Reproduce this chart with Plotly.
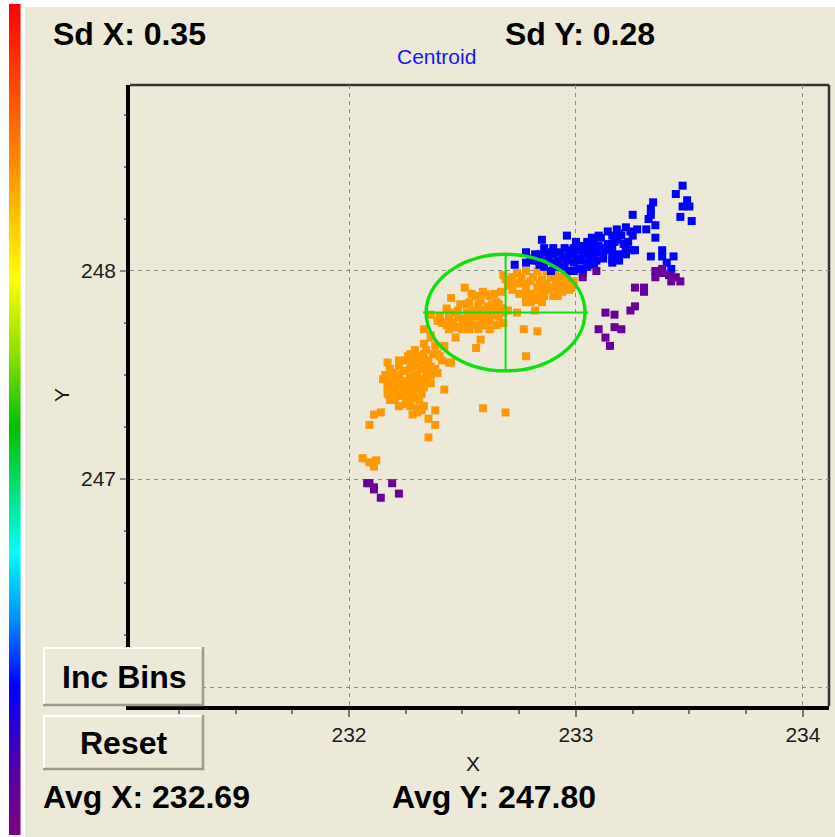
import numpy as np
import plotly.graph_objects as go

W, H = 835, 837
BG = "#ECE9D8"

# ---- summary statistics shown on the chart ----
SD_X, SD_Y = 0.35, 0.28
AVG_X, AVG_Y = 232.69, 247.80

# ---- tick settings ----
X_TICK0 = 232
Y_TICKVALS = [246, 247, 248]
Y_TICKTEXT = ["", "247", "248"]   # the 246 label sits hidden behind the button

# ---- data: orange cluster ----
orange_x = [
    232.68, 232.74, 232.78, 232.83, 232.87, 232.91, 232.96, 232.99, 232.98, 232.94,
    232.90, 232.86, 232.82, 232.78, 232.82, 232.78, 232.74, 232.69, 232.75, 232.87,
    232.93, 232.83, 232.90, 232.96, 232.80, 232.86, 232.85, 232.92, 232.80, 232.88,
    232.95, 232.70,
    232.72, 232.76, 232.81, 232.89, 232.94, 232.71, 232.77, 232.84, 232.91, 232.98,
    232.72, 232.78, 232.85, 232.93, 232.97, 232.78, 232.83, 232.92, 232.80, 232.85,
    232.51, 232.59, 232.67, 232.56, 232.62, 232.53, 232.49, 232.65, 232.67, 232.61,
    232.55, 232.46, 232.40, 232.39, 232.44, 232.50, 232.56, 232.63, 232.68, 232.47,
    232.53, 232.59, 232.65, 232.43, 232.74, 232.45, 232.58, 232.52, 232.60, 232.43,
    232.36, 232.50, 232.56, 232.62, 232.66,
    232.52, 232.57, 232.63, 232.48, 232.58, 232.64, 232.70, 232.44, 232.48, 232.53,
    232.59, 232.66, 232.41, 232.46, 232.53, 232.60, 232.68, 232.44, 232.50, 232.57,
    232.62, 232.54, 232.60, 232.64,
    232.77, 232.83, 232.47, 232.58, 232.56, 232.78, 232.45, 232.42, 232.59, 232.69,
    232.36, 232.38, 232.34, 232.40, 232.44, 232.30, 232.26, 232.17, 232.22, 232.30,
    232.36, 232.39, 232.17, 232.21, 232.27, 232.33, 232.20, 232.25, 232.31, 232.36,
    232.18, 232.22, 232.28, 232.25, 232.30, 232.32, 232.28, 232.24, 232.21, 232.34,
    232.32, 232.28, 232.24, 232.28, 232.19, 232.31, 232.23, 232.26, 232.34, 232.29,
    232.33, 232.37, 232.42, 232.15, 232.17, 232.27, 232.22, 232.33, 232.36,
    232.27, 232.33, 232.39, 232.25, 232.35, 232.41, 232.18, 232.27, 232.32, 232.38,
    232.16, 232.22, 232.30, 232.36, 232.19, 232.25, 232.30, 232.34, 232.17, 232.22,
    232.28, 232.33, 232.20, 232.29, 232.32, 232.20, 232.25, 232.31, 232.22, 232.27,
    232.33, 232.30,
    232.38, 232.35, 232.38, 232.35, 232.14, 232.11, 232.09,
    232.06, 232.09, 232.12, 232.11,
]
orange_y = [
    247.98, 247.99, 248.00, 248.00, 248.00, 247.99, 247.98, 247.95, 247.92, 247.90,
    247.88, 247.88, 247.86, 247.85, 247.81, 247.92, 247.94, 247.96, 247.89, 247.94,
    247.94, 247.92, 247.92, 247.93, 247.89, 247.90, 247.96, 247.97, 247.95, 247.91,
    247.95, 247.93,
    247.97, 247.97, 247.97, 247.97, 247.97, 247.94, 247.94, 247.94, 247.94, 247.94,
    247.91, 247.91, 247.91, 247.91, 247.91, 247.88, 247.88, 247.88, 247.85, 247.85,
    247.92, 247.90, 247.90, 247.88, 247.88, 247.85, 247.84, 247.85, 247.82, 247.83,
    247.81, 247.80, 247.78, 247.76, 247.76, 247.77, 247.78, 247.79, 247.80, 247.73,
    247.72, 247.74, 247.74, 247.74, 247.80, 247.87, 247.86, 247.80, 247.80, 247.82,
    247.79, 247.75, 247.74, 247.76, 247.84,
    247.84, 247.84, 247.84, 247.81, 247.81, 247.81, 247.81, 247.78, 247.78, 247.78,
    247.78, 247.78, 247.75, 247.75, 247.75, 247.75, 247.75, 247.72, 247.72, 247.72,
    247.72, 247.89, 247.89, 247.89,
    247.72, 247.71, 247.68, 247.67, 247.63, 247.59, 247.56, 247.43, 247.34, 247.32,
    247.69, 247.64, 247.62, 247.59, 247.56, 247.59, 247.59, 247.56, 247.54, 247.54,
    247.54, 247.51, 247.46, 247.49, 247.49, 247.48, 247.43, 247.44, 247.44, 247.46,
    247.38, 247.40, 247.39, 247.36, 247.34, 247.33, 247.31, 247.41, 247.46, 247.51,
    247.57, 247.56, 247.52, 247.47, 247.51, 247.58, 247.46, 247.42, 247.55, 247.62,
    247.65, 247.60, 247.64, 247.48, 247.41, 247.37, 247.57, 247.72, 247.68,
    247.60, 247.60, 247.60, 247.57, 247.57, 247.57, 247.53, 247.53, 247.53, 247.53,
    247.50, 247.50, 247.50, 247.50, 247.47, 247.47, 247.47, 247.47, 247.44, 247.44,
    247.44, 247.44, 247.41, 247.41, 247.41, 247.38, 247.38, 247.38, 247.35, 247.35,
    247.35, 247.32,
    247.33, 247.29, 247.26, 247.20, 247.32, 247.31, 247.26,
    247.10, 247.08, 247.09, 247.06,
]

# ---- data: blue cluster ----
blue_x = [
    233.47, 233.44, 233.49, 233.47, 233.50, 233.46, 233.51, 233.34, 233.33, 233.33,
    233.32, 233.35, 233.31, 233.35, 233.25, 233.22, 233.25, 233.19, 233.14, 233.18,
    233.21, 233.26, 233.22, 233.16, 233.16, 232.96, 232.85, 233.07, 233.05, 233.02,
    233.00, 233.38, 233.33, 233.38, 233.43, 233.40, 233.42, 232.86, 232.78, 232.81,
    232.78, 232.84, 232.90, 232.94, 232.99, 233.05, 233.09, 233.12, 233.05, 233.01,
    233.03, 233.08, 232.93, 232.89, 232.97, 232.73, 233.02, 233.08, 233.18, 233.25,
    233.22, 233.16, 233.12, 233.06, 232.99, 232.91, 232.84, 232.80, 232.87, 232.93,
    232.99, 233.05, 233.11, 233.16, 233.03, 232.99, 233.00, 232.95, 233.10, 233.13,
    233.03, 232.92, 232.88, 233.06, 232.97, 233.14, 233.20, 233.24, 232.82,
    232.86, 232.95, 233.05, 232.83, 232.87, 232.96, 233.02, 233.09, 233.19, 232.84,
    232.90, 232.97, 233.08, 233.19, 232.90, 232.95, 233.04, 233.13, 233.22, 233.00,
    233.08, 233.17, 233.23, 233.10, 233.16, 233.18, 233.27,
]
blue_y = [
    248.41, 248.37, 248.34, 248.31, 248.31, 248.26, 248.24, 248.33, 248.30, 248.27,
    248.25, 248.22, 248.20, 248.16, 248.27, 248.21, 248.17, 248.18, 248.19, 248.16,
    248.13, 248.10, 248.09, 248.08, 248.04, 248.17, 248.15, 248.16, 248.13, 248.12,
    248.10, 248.10, 248.07, 248.07, 248.07, 248.04, 248.01, 248.11, 248.09, 248.05,
    248.04, 248.03, 248.04, 248.06, 248.08, 248.08, 248.09, 248.06, 248.04, 248.01,
    247.99, 248.03, 248.02, 248.00, 248.00, 248.03, 248.10, 248.12, 248.15, 248.10,
    248.08, 248.05, 248.08, 248.05, 248.04, 248.02, 248.04, 248.06, 248.09, 248.09,
    248.11, 248.14, 248.16, 248.11, 248.01, 248.00, 248.06, 248.07, 248.12, 248.10,
    248.08, 248.05, 248.06, 248.10, 248.10, 248.13, 248.17, 248.19, 248.08,
    248.02, 248.02, 248.02, 248.05, 248.05, 248.05, 248.05, 248.05, 248.05, 248.08,
    248.08, 248.08, 248.08, 248.08, 248.11, 248.11, 248.11, 248.11, 248.11, 248.14,
    248.14, 248.14, 248.14, 248.17, 248.17, 248.20, 248.20,
]

# ---- data: purple points ----
purple_x = [
    233.09, 233.03, 233.35, 233.38, 233.41, 233.44, 233.35, 233.42, 233.46, 233.38,
    233.26, 233.30, 233.30, 233.26, 233.24, 233.13, 233.17, 233.10, 233.17, 233.20,
    233.13, 233.15,
    232.08, 232.11, 232.14, 232.19, 232.22, 232.11, 232.09,
]
purple_y = [
    248.00, 247.97, 248.00, 247.99, 247.98, 247.97, 247.97, 247.95, 247.95, 248.01,
    247.92, 247.92, 247.90, 247.83, 247.81, 247.80, 247.79, 247.72, 247.73, 247.72,
    247.68, 247.64,
    246.98, 246.96, 246.91, 246.98, 246.93, 246.95, 246.98,
]

# ---- rainbow legend strip (bottom -> top: purple ... red) ----
RAINBOW = [
    [0.00, "#800080"], [0.09, "#4A00B0"], [0.18, "#0000FF"], [0.26, "#0090FF"],
    [0.34, "#00FFFF"], [0.42, "#00E070"], [0.49, "#00C000"], [0.58, "#90E000"],
    [0.67, "#FFFF00"], [0.81, "#FF8C00"], [1.00, "#FF0000"],
]
N_LEVELS = 415


def px(x):
    return x / W


def py(y):
    return 1 - y / H


fig = go.Figure()

marker_base = dict(symbol="square", size=8, line=dict(width=0))
fig.add_trace(go.Scatter(x=orange_x, y=orange_y, mode="markers",
                         marker=dict(color="#FF9900", **marker_base),
                         showlegend=False, hoverinfo="skip"))
fig.add_trace(go.Scatter(x=blue_x, y=blue_y, mode="markers",
                         marker=dict(color="#0000FF", **marker_base),
                         showlegend=False, hoverinfo="skip"))
fig.add_trace(go.Scatter(x=purple_x, y=purple_y, mode="markers",
                         marker=dict(color="#660099", **marker_base),
                         showlegend=False, hoverinfo="skip"))

levels = np.linspace(0, 1, N_LEVELS)
fig.add_trace(go.Heatmap(z=[[v, v] for v in levels], x=[0, 1],
                         y=list(range(N_LEVELS)), xaxis="x2", yaxis="y2",
                         colorscale=RAINBOW, showscale=False, zmin=0, zmax=1,
                         hoverinfo="skip"))

tickfont = dict(family="Liberation Sans", size=21, color="#1a1a1a")
grid = dict(showgrid=True, gridcolor="#8a8a8a", griddash="4px,4px", gridwidth=1.3)

fig.update_layout(
    template="none",
    width=W, height=H,
    margin=dict(l=0, r=0, t=0, b=0),
    paper_bgcolor="white",
    plot_bgcolor=BG,
    showlegend=False,
    xaxis=dict(
        domain=[px(130), px(829)], range=[231.035, 234.115],
        tickmode="linear", tick0=X_TICK0, dtick=1,
        showline=True, linecolor="black", linewidth=3.5,
        ticks="outside", ticklen=7, tickcolor="#777777", tickwidth=1.5,
        minor=dict(dtick=0.25, tick0=X_TICK0, ticks="outside", ticklen=4,
                   tickcolor="#777777", tickwidth=1.5, showgrid=False),
        tickfont=tickfont, zeroline=False, anchor="y", fixedrange=True,
        automargin=False, **grid,
    ),
    yaxis=dict(
        domain=[py(706), py(85)], range=[245.909, 248.894],
        tickmode="array", tickvals=Y_TICKVALS, ticktext=Y_TICKTEXT,
        showline=True, linecolor="black", linewidth=3.5,
        ticks="outside", ticklen=6, tickcolor="#8a8a8a", tickwidth=1.5,
        minor=dict(tickmode="linear", dtick=0.25, tick0=Y_TICKVALS[0], ticks="outside",
                   ticklen=2, tickcolor="#777777", tickwidth=2, showgrid=False),
        tickfont=tickfont, zeroline=False, anchor="x", fixedrange=True,
        automargin=False, **grid,
    ),
    xaxis2=dict(domain=[px(9), px(20.5)], range=[-0.5, 1.5], visible=False,
                anchor="y2", fixedrange=True),
    yaxis2=dict(domain=[py(835), py(4)], range=[-0.5, N_LEVELS - 0.5],
                visible=False, anchor="x2", fixedrange=True),
)

shapes = []
# beige panel
shapes.append(dict(type="rect", xref="paper", yref="paper", x0=px(25), x1=1,
                   y0=0, y1=py(7), fillcolor=BG, line=dict(width=0), layer="below"))
# top & right frame lines
shapes.append(dict(type="line", xref="paper", yref="paper", x0=px(130), x1=px(829),
                   y0=py(85), y1=py(85), line=dict(color="#333333", width=2.5), layer="below"))
shapes.append(dict(type="line", xref="paper", yref="paper", x0=px(829), x1=px(829),
                   y0=py(85), y1=py(706), line=dict(color="#333333", width=2.5), layer="below"))
# centroid ellipse and crosshair
GREEN = "#10E010"
shapes.append(dict(type="circle", xref="x", yref="y",
                   x0=AVG_X - SD_X, x1=AVG_X + SD_X, y0=AVG_Y - SD_Y, y1=AVG_Y + SD_Y,
                   line=dict(color=GREEN, width=3.5), layer="above"))
shapes.append(dict(type="line", xref="x", yref="y",
                   x0=AVG_X - SD_X * 1.04, x1=AVG_X + SD_X * 1.04, y0=AVG_Y, y1=AVG_Y,
                   line=dict(color=GREEN, width=2), layer="above"))
shapes.append(dict(type="line", xref="x", yref="y",
                   x0=AVG_X, x1=AVG_X, y0=AVG_Y - SD_Y, y1=AVG_Y + SD_Y,
                   line=dict(color=GREEN, width=2), layer="above"))


def button(x0, x1, y0, y1):
    out = [dict(type="rect", xref="paper", yref="paper", x0=px(x0), x1=px(x1),
                y0=py(y1), y1=py(y0), fillcolor=BG, line=dict(width=0), layer="above")]
    out.append(dict(type="line", xref="paper", yref="paper", x0=px(x0), x1=px(x1),
                    y0=py(y0 + 1), y1=py(y0 + 1), line=dict(color="white", width=2), layer="above"))
    out.append(dict(type="line", xref="paper", yref="paper", x0=px(x0 + 1), x1=px(x0 + 1),
                    y0=py(y0), y1=py(y1), line=dict(color="white", width=2), layer="above"))
    out.append(dict(type="line", xref="paper", yref="paper", x0=px(x0), x1=px(x1),
                    y0=py(y1 - 1), y1=py(y1 - 1), line=dict(color="#9E9B8C", width=2.5), layer="above"))
    out.append(dict(type="line", xref="paper", yref="paper", x0=px(x1 - 1), x1=px(x1 - 1),
                    y0=py(y0), y1=py(y1), line=dict(color="#9E9B8C", width=2.5), layer="above"))
    return out


shapes += button(43, 204, 647, 706)
shapes += button(43, 204, 715, 770)
fig.update_layout(shapes=shapes)


def ann(text, x, y, size, xanchor="left", bold=False, color="#000000", angle=0):
    fig.add_annotation(
        text=text, x=px(x), y=py(y), xref="paper", yref="paper",
        xanchor=xanchor, yanchor="middle", showarrow=False, textangle=angle,
        font=dict(family="Liberation Sans", size=size, color=color,
                  weight="bold" if bold else "normal"),
    )


ann(f"Sd X: {SD_X:.2f}", 51, 34, 32, bold=True)
ann(f"Sd Y: {SD_Y:.2f}", 503, 34, 32, bold=True)
ann("Centroid", 436.5, 56, 21, xanchor="center", color="#1515FF")
ann(f"Avg X: {AVG_X:.2f}", 41, 797, 32, bold=True)
ann(f"Avg Y: {AVG_Y:.2f}", 390, 797, 32, bold=True)
ann("X", 473, 763, 21, xanchor="center", color="#1a1a1a")
ann("Y", 61, 395, 21, xanchor="center", color="#1a1a1a", angle=-90)
ann("Inc Bins", 123.5, 677, 32, xanchor="center", bold=True)
ann("Reset", 123.5, 743, 32, xanchor="center", bold=True)

fig.write_html(
    "out.html",
    config={"displayModeBar": False},
    post_script="document.body.style.margin='0';document.body.style.overflow='hidden';",
)
